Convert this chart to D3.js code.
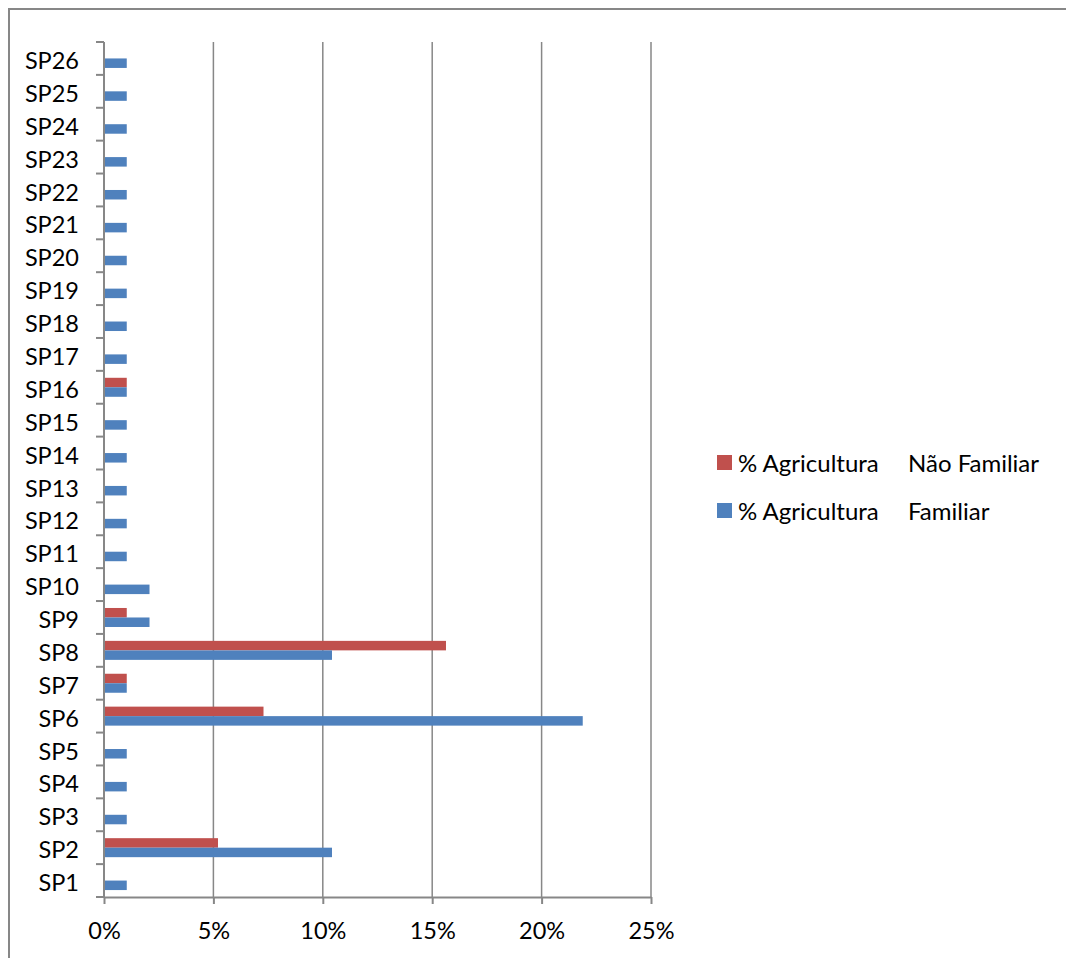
<!DOCTYPE html>
<meta charset="utf-8">
<script src="https://d3js.org/d3.v7.min.js"></script>
<style>
  body { margin: 0; background: #fff; }
  text { font-family: Lato, "Open Sans", sans-serif; fill: #000; }
</style>
<body>
<div id="chart"></div>
<script>
const categories = ["SP1","SP2","SP3","SP4","SP5","SP6","SP7","SP8","SP9","SP10","SP11","SP12","SP13",
  "SP14","SP15","SP16","SP17","SP18","SP19","SP20","SP21","SP22","SP23","SP24","SP25","SP26"];
// % Agricultura Familiar (blue)
const familiar = [1.04,10.42,1.04,1.04,1.04,21.88,1.04,10.42,2.08,2.08,1.04,1.04,1.04,
  1.04,1.04,1.04,1.04,1.04,1.04,1.04,1.04,1.04,1.04,1.04,1.04,1.04];
// % Agricultura Não Familiar (red)
const naoFamiliar = [0,5.21,0,0,0,7.29,1.04,15.63,1.04,0,0,0,0,
  0,0,1.04,0,0,0,0,0,0,0,0,0,0];
const seriesNames = [["% Agricultura", "Não Familiar"], ["% Agricultura", "Familiar"]];
const xTicks = [0,5,10,15,20,25];

const W = 1066, H = 958;
const margin = {top: 42, left: 104, right: 415, bottom: 61};
const width = W - margin.left - margin.right;   // 547
const height = H - margin.top - margin.bottom;  // 855

const svg = d3.select("#chart").append("svg")
    .attr("width", W).attr("height", H)
    .style("background", "#fff");

// outer chart border (right and bottom fall off the picture)
svg.append("rect")
    .attr("x", 9).attr("y", 9)
    .attr("width", W + 20).attr("height", H + 20)
    .attr("fill", "none").attr("stroke", "#878787").attr("stroke-width", 2);

const g = svg.append("g").attr("transform", `translate(${margin.left},${margin.top})`);

const x = d3.scaleLinear().domain([0, 25]).range([0, width]);
const y = d3.scaleBand().domain(categories.slice().reverse()).range([0, height]);

// vertical gridlines
g.selectAll("line.grid")
  .data(xTicks.slice(1))
  .join("line")
    .attr("class", "grid")
    .attr("x1", d => x(d)).attr("x2", d => x(d))
    .attr("y1", 0).attr("y2", height)
    .attr("stroke", "#878787").attr("stroke-width", 1.5);

// bars
const barH = 9.5;
const series = [
  {name: seriesNames[0], values: naoFamiliar, color: "#C0504D", off: -barH},
  {name: seriesNames[1], values: familiar, color: "#4F81BD", off: 0}
];
series.forEach(s => {
  g.selectAll(null)
    .data(categories.map((c, i) => ({c, v: s.values[i]})).filter(d => d.v > 0))
    .join("rect")
      .attr("x", x(0))
      .attr("y", d => y(d.c) + y.bandwidth() / 2 + s.off)
      .attr("width", d => x(d.v) - x(0))
      .attr("height", barH)
      .attr("fill", s.color);
});

// y axis
const yAxis = g.append("g")
    .call(d3.axisLeft(y).tickSize(0).tickPadding(25));
yAxis.select(".domain").remove();
yAxis.selectAll("text").style("font-size", "23.5px").attr("font-family", null).attr("dy", "0.45em");
g.append("line")
    .attr("x1", 0).attr("x2", 0).attr("y1", 0).attr("y2", height)
    .attr("stroke", "#878787").attr("stroke-width", 2);
g.selectAll("line.ytick")
  .data(d3.range(categories.length + 1))
  .join("line")
    .attr("class", "ytick")
    .attr("x1", -8).attr("x2", 0)
    .attr("y1", i => i * y.step()).attr("y2", i => i * y.step())
    .attr("stroke", "#878787").attr("stroke-width", 2);

// x axis
const xAxis = g.append("g")
    .attr("transform", `translate(0,${height})`)
    .call(d3.axisBottom(x).tickValues(xTicks).tickFormat(d => d + "%").tickSize(7).tickPadding(18).tickSizeOuter(0));
xAxis.select(".domain").attr("stroke", "#878787").attr("stroke-width", 2);
xAxis.selectAll(".tick line").attr("stroke", "#878787").attr("stroke-width", 2);
xAxis.selectAll("text").style("font-size", "23.5px").attr("font-family", null);

// legend
const legend = svg.append("g").attr("transform", "translate(717,455)");
series.forEach((s, i) => {
  const row = legend.append("g").attr("transform", `translate(0,${i * 48})`);
  row.append("rect").attr("width", 15).attr("height", 15).attr("fill", s.color);
  const t = row.append("text")
      .attr("y", 7.5).attr("dy", "0.38em")
      .style("font-size", "24px");
  t.append("tspan").attr("x", 21).text(s.name[0]);
  t.append("tspan").attr("x", 191).text(s.name[1]);
});
</script>
</body>
